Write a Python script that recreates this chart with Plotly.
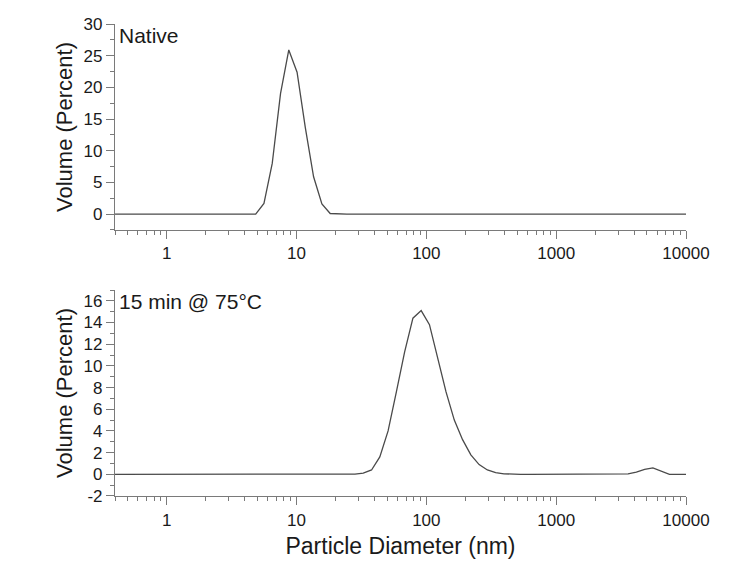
import plotly.graph_objects as go

# Particle diameter bins (nm)
diameter_nm = [0.4, 0.4632, 0.5365, 0.6213, 0.7195, 0.8332, 0.9649, 1.117, 1.294, 1.499,
               1.736, 2.01, 2.328, 2.696, 3.122, 3.615, 4.187, 4.849, 5.615, 6.503,
               7.531, 8.721, 10.1, 11.7, 13.54, 15.69, 18.17, 21.04, 24.36, 28.21,
               32.67, 37.84, 43.82, 50.75, 58.77, 68.06, 78.82, 91.28, 105.7, 122.4,
               141.8, 164.2, 190.1, 220.2, 255.0, 295.3, 342.0, 396.1, 458.7, 531.2,
               615.1, 712.4, 825.0, 955.4, 1106, 1281, 1484, 1718, 1990, 2305,
               2669, 3091, 3580, 4145, 4801, 5560, 6439, 7456, 8635, 10000]

# Volume (%) — native sample
native_volume = [0, 0, 0, 0, 0, 0, 0, 0, 0, 0,
                 0, 0, 0, 0, 0, 0, 0, 0, 1.7, 8.0,
                 19.0, 25.9, 22.4, 13.6, 5.9, 1.6, 0.1, 0, 0, 0,
                 0, 0, 0, 0, 0, 0, 0, 0, 0, 0,
                 0, 0, 0, 0, 0, 0, 0, 0, 0, 0,
                 0, 0, 0, 0, 0, 0, 0, 0, 0, 0,
                 0, 0, 0, 0, 0, 0, 0, 0, 0, 0]

# Volume (%) — 15 min @ 75°C
heated_volume = [0, 0, 0, 0, 0, 0, 0, 0, 0, 0,
                 0, 0, 0, 0, 0, 0, 0, 0, 0, 0,
                 0, 0, 0, 0, 0, 0, 0, 0, 0, 0.02,
                 0.1, 0.4, 1.6, 4.0, 7.6, 11.3, 14.4, 15.1, 13.8, 10.6,
                 7.6, 5.0, 3.2, 1.8, 0.9, 0.4, 0.15, 0.05, 0, 0,
                 0, 0, 0, 0, 0, 0, 0, 0, 0, 0,
                 0, 0, 0.05, 0.2, 0.45, 0.6, 0.3, 0, 0, 0]

x_tickvals = [1, 10, 100, 1000, 10000]
x_ticktext = ["1", "10", "100", "1000", "10000"]
top_ytickvals = [0, 5, 10, 15, 20, 25, 30]
top_yticktext = ["0", "5", "10", "15", "20", "25", "30"]
bottom_ytickvals = [-2, 0, 2, 4, 6, 8, 10, 12, 14, 16]
bottom_yticktext = ["-2", "0", "2", "4", "6", "8", "10", "12", "14", "16"]
panel_labels = ["Native", "15 min @ 75°C"]
x_title = "Particle Diameter (nm)"
y_title = "Volume (Percent)"

minor_x = [m * 10 ** e for e in range(-1, 4) for m in range(2, 10) if 0.4 <= m * 10 ** e <= 10000]

FONT = "Liberation Sans, Arial, sans-serif"
AXIS_COLOR = "#7a7a7a"
LINE_COLOR = "#4a4a4a"
TEXT_COLOR = "#1a1a1a"

fig = go.Figure()
fig.add_trace(go.Scatter(x=diameter_nm, y=native_volume, mode="lines",
                         line=dict(color=LINE_COLOR, width=1.3), xaxis="x", yaxis="y",
                         showlegend=False))
fig.add_trace(go.Scatter(x=diameter_nm, y=heated_volume, mode="lines",
                         line=dict(color=LINE_COLOR, width=1.3), xaxis="x2", yaxis="y2",
                         showlegend=False))

xaxis_common = dict(type="log", range=[-0.398, 4.0], showline=True, linecolor=AXIS_COLOR,
                    linewidth=1.2, ticks="outside", ticklen=8, tickcolor=AXIS_COLOR,
                    tickwidth=1, tickmode="array", tickvals=x_tickvals, ticktext=x_ticktext,
                    showgrid=False, zeroline=False,
                    tickfont=dict(family=FONT, size=17, color=TEXT_COLOR),
                    minor=dict(tickmode="array", tickvals=minor_x, ticks="outside",
                               ticklen=4, tickcolor=AXIS_COLOR, showgrid=False))
yaxis_common = dict(showline=True, linecolor=AXIS_COLOR, linewidth=1.2, ticks="outside",
                    ticklen=8, tickcolor=AXIS_COLOR, tickwidth=1, showgrid=False,
                    zeroline=False, tickfont=dict(family=FONT, size=17, color=TEXT_COLOR),
                    title=dict(text=y_title, font=dict(family=FONT, size=22, color=TEXT_COLOR),
                               standoff=4))

fig.update_layout(
    width=755, height=571,
    margin=dict(l=115, r=69, t=24, b=75),
    paper_bgcolor="white", plot_bgcolor="white",
    xaxis=dict(**xaxis_common, domain=[0, 1], anchor="y"),
    yaxis=dict(**yaxis_common, domain=[0.5636, 1.0], anchor="x", range=[-2.5, 30],
               tickmode="array", tickvals=top_ytickvals, ticktext=top_yticktext,
               minor=dict(dtick=2.5, tick0=0, ticks="outside", ticklen=4,
                          tickcolor=AXIS_COLOR, showgrid=False)),
    xaxis2=dict(**xaxis_common, domain=[0, 1], anchor="y2",
                title=dict(text=x_title, font=dict(family=FONT, size=23, color=TEXT_COLOR),
                           standoff=9)),
    yaxis2=dict(**yaxis_common, domain=[0, 0.4364], anchor="x2", range=[-2, 17],
                tickmode="array", tickvals=bottom_ytickvals, ticktext=bottom_yticktext,
                minor=dict(dtick=1, tick0=0, ticks="outside", ticklen=4,
                           tickcolor=AXIS_COLOR, showgrid=False)),
    annotations=[
        dict(text=panel_labels[0], xref="paper", yref="paper", x=0.003, y=1.005,
             xanchor="left", yanchor="top", showarrow=False,
             font=dict(family=FONT, size=21, color=TEXT_COLOR)),
        dict(text=panel_labels[1], xref="paper", yref="paper", x=0.003, y=0.4414,
             xanchor="left", yanchor="top", showarrow=False,
             font=dict(family=FONT, size=21, color=TEXT_COLOR)),
    ],
)

fig.write_html("out.html")
